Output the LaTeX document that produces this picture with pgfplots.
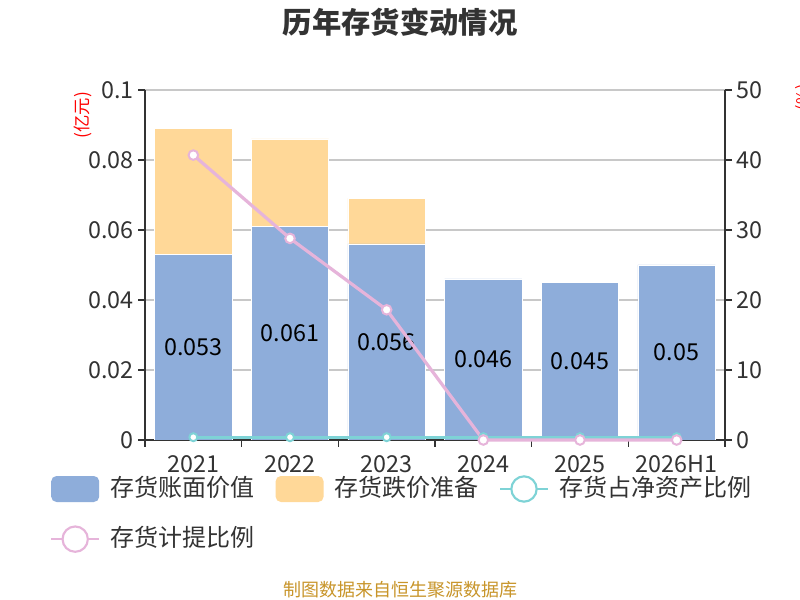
\documentclass[border=0pt]{standalone}
\usepackage{fontspec}
\setmainfont{Noto Sans CJK SC}
\usepackage{pgfplots}
\pgfplotsset{compat=1.18}
\definecolor{cblue}{HTML}{8EADDA}
\definecolor{corange}{HTML}{FFD898}
\definecolor{cteal}{HTML}{7ED3D6}
\definecolor{cpink}{HTML}{E6B4DA}
\definecolor{ctext}{HTML}{333333}
\definecolor{cgrid}{HTML}{C8C8C8}
\definecolor{cfoot}{HTML}{C8952A}
\pgfplotsset{
  /pgf/number format/assume math mode=true,
  barlegend/.style={legend image code/.code={\fill[##1, rounded corners=4pt] (0pt,-9.75pt) rectangle (36pt,9.75pt);}},
  linelegend/.style={legend image code/.code={\draw[##1, line width=1.6pt] (0pt,0pt) -- (36pt,0pt); \draw[##1, line width=1.6pt, fill=white] (18pt,0pt) circle (9.5pt);}},
  common/.style={
    at={(108.75pt,120pt)}, anchor=south west,
    scale only axis, width=435pt, height=262.5pt,
    xmin=-0.5, xmax=5.5,
    tick align=outside, major tick length=5pt, minor tick length=5pt,
    axis line style={ctext, line width=1.2pt, -},
    tick style={ctext, line width=1.2pt},
    ticklabel style={font=\fontsize{17.5}{19}\selectfont, text=ctext},
  }
}
\begin{document}
\begin{tikzpicture}[x=1pt,y=1pt]
\useasboundingbox (0,0) rectangle (600,450);
\fill[white] (0,0) rectangle (600,450);
\node[font=\fontsize{22}{26}\selectfont\bfseries, text=ctext] at (300,433.5) {历年存货变动情况};
\node[font=\fontsize{13.5}{16}\selectfont, text=cfoot] at (300,7.5) {制图数据来自恒生聚源数据库};
\node[rotate=90, text=red, font=\fontsize{13}{15}\selectfont] at (62.25,363.5) {(亿元)};
\node[rotate=90, text=red, font=\fontsize{12}{14}\selectfont] at (603,377) {(\%)};

\begin{axis}[common,
  ybar stacked, bar width=0.8,
  ymin=0, ymax=0.1,
  xtick={0,...,5}, xticklabels={2021,2022,2023,2024,2025,2026H1},
  major x tick style={draw=none},
  minor xtick={-0.5,0.5,1.5,2.5,3.5,4.5,5.5},
  ytick={0,0.02,0.04,0.06,0.08,0.1},
  yticklabels={0,0.02,0.04,0.06,0.08,0.1},
  ymajorgrids, grid style={cgrid, line width=1pt},
  axis x line*=bottom, axis y line*=left,
  xticklabel style={yshift=-3pt},
]
\addplot[fill=cblue, draw=white, line width=0.4pt,
  nodes near coords,
  every node near coord/.append style={anchor=center, font=\fontsize{17.5}{20}\selectfont, text=black},
  /pgf/number format/fixed, /pgf/number format/precision=3]
  coordinates {(0,0.053) (1,0.061) (2,0.056) (3,0.046) (4,0.045) (5,0.05)};
\addplot[fill=corange, draw=white, line width=0.4pt]
  coordinates {(0,0.036) (1,0.025) (2,0.013) (3,0) (4,0) (5,0)};
\end{axis}

\begin{axis}[common,
  ymin=0, ymax=50,
  ytick={0,10,20,30,40,50},
  axis x line=none, axis y line*=right,
  clip=false,
  legend style={at={(-0.164,-0.1)}, anchor=north west, draw=none, fill=none, inner sep=0pt,
    font=\fontsize{18}{20}\selectfont, text=ctext, legend columns=3,
    nodes={inner xsep=0pt, inner ysep=0pt, text height=15pt, text depth=4.5pt},
    /tikz/every odd column/.append style={column sep=8pt},
    /tikz/every even column/.append style={column sep=15.5pt},
    row sep=17pt},
  legend cell align=left,
]
\addlegendimage{barlegend, fill=cblue, draw=none}
\addlegendentry{存货账面价值}
\addlegendimage{barlegend, fill=corange, draw=none}
\addlegendentry{存货跌价准备}
\addplot[linelegend, cteal, line width=2.2pt, mark=*, mark size=3pt,
  mark options={fill=white, draw=cteal, line width=1.5pt}]
  coordinates {(0,0.4) (1,0.4) (2,0.4) (3,0.4) (4,0.4) (5,0.4)};
\addlegendentry{存货占净资产比例}
\addplot[linelegend, cpink, line width=2.4pt, mark=*, mark size=3.6pt,
  mark options={fill=white, draw=cpink, line width=1.5pt}]
  coordinates {(0,40.7) (1,28.8) (2,18.6) (3,0) (4,0) (5,0)};
\addlegendentry{存货计提比例}
\end{axis}
\end{tikzpicture}
\end{document}
